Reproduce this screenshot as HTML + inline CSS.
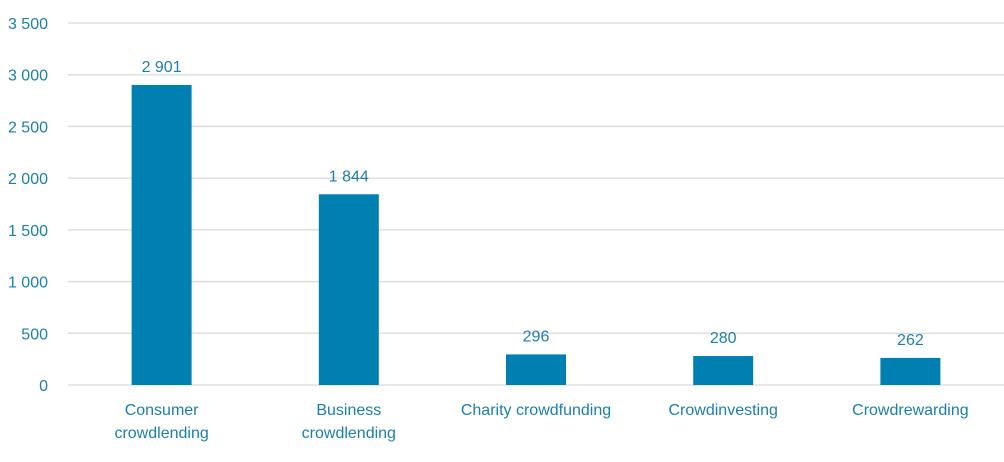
<!DOCTYPE html>
<html><head><meta charset="utf-8"><style>
body{margin:0;background:#fff;}
svg text{font-family:"Liberation Sans",sans-serif;fill:#1a7fae;font-size:16px;}
</style></head><body>
<svg id="chart" width="1004" height="457" xmlns="http://www.w3.org/2000/svg"></svg>
<script>
const categories=[["Consumer","crowdlending"],["Business","crowdlending"],["Charity crowdfunding"],["Crowdinvesting"],["Crowdrewarding"]];
const values=[2901,1844,296,280,262];
const valueLabels=["2 901","1 844","296","280","262"];
const ticks=[0,500,1000,1500,2000,2500,3000,3500];
const tickLabels=["0","500","1 000","1 500","2 000","2 500","3 000","3 500"];
const svg=document.getElementById('chart');
const NS="http://www.w3.org/2000/svg";
const x0=68,x1=1004,y0=385,yTop=23,maxV=3500;
const y=v=>y0-(v/maxV)*(y0-yTop);
const band=(x1-x0)/categories.length;
const xc=i=>x0+band*(i+0.5);
function mk(t,a){const e=document.createElementNS(NS,t);for(const k in a)e.setAttribute(k,a[k]);svg.appendChild(e);return e;}
ticks.forEach((t,i)=>{
 const g=mk('line',{x1:x0,x2:x1,y1:y(t),y2:y(t),stroke:'#d9d9d9','stroke-width':1.3});
 
 
 const l=mk('text',{x:48,y:y(t)+6,'text-anchor':'end'});
 l.textContent=tickLabels[i];
 
 
});
values.forEach((v,i)=>{
 const b=mk('rect',{x:xc(i)-30,y:y(v),width:60,height:y0-y(v),fill:'#0080b0'});
 
 
 const t=mk('text',{x:xc(i),y:y(v)-13,'text-anchor':'middle'});
 t.textContent=valueLabels[i];
 
 
 categories[i].forEach((line,j)=>{
  const c=mk('text',{x:xc(i),y:415+j*23,'text-anchor':'middle'});
  c.textContent=line;
  
  
 });
});
</script>
</body></html>
